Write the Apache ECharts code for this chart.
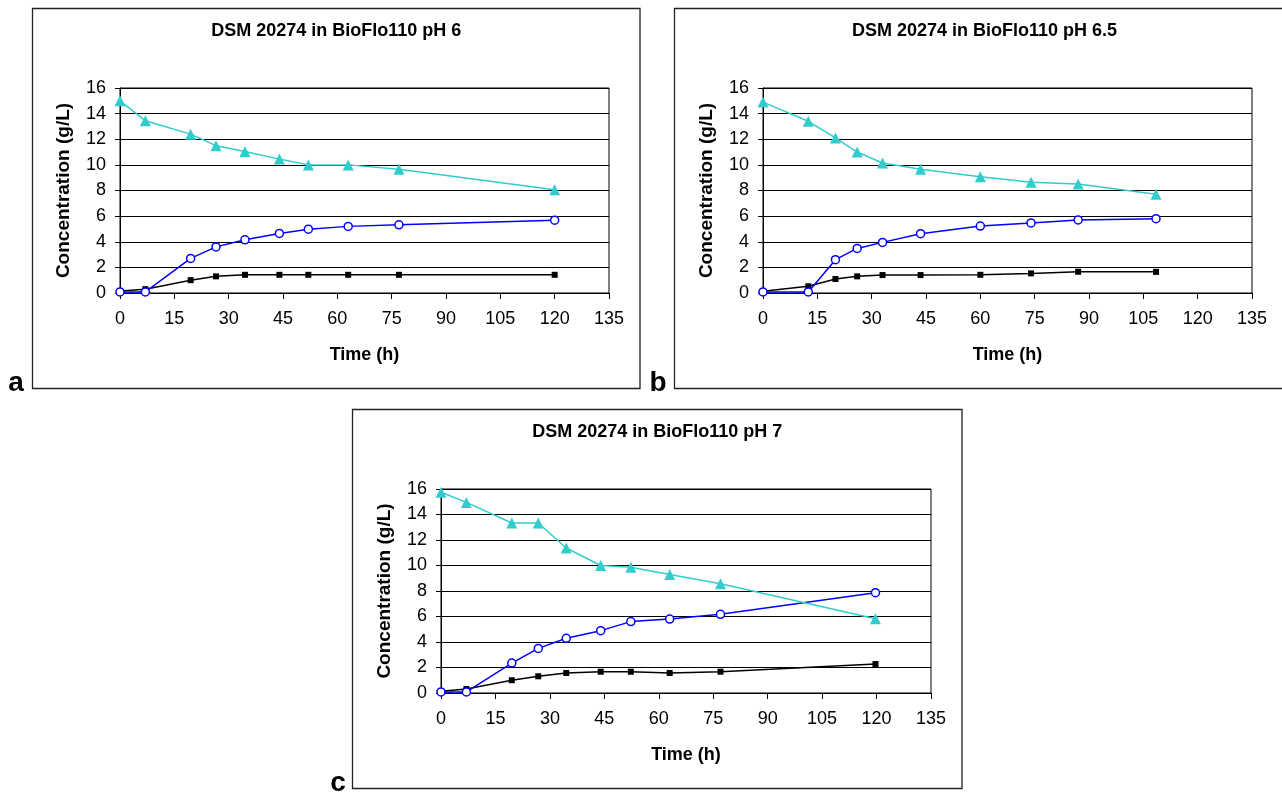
<!DOCTYPE html>
<html>
<head>
<meta charset="utf-8">
<script src="https://cdn.jsdelivr.net/npm/echarts@6/dist/echarts.min.js"></script>
<style>
  body { margin: 0; background: #fff; }
  #main { width: 1282px; height: 794px; }
</style>
</head>
<body>
<div id="main"></div>
<script type="text/javascript">
    // data
    var timeA = [0, 7, 19.5, 26.5, 34.5, 44, 52, 63, 77, 120];
    var triA = [15.0, 13.45, 12.4, 11.5, 11.05, 10.45, 10.0, 10.0, 9.65, 8.05];
    var circA = [0.08, 0.08, 2.7, 3.6, 4.15, 4.65, 4.98, 5.2, 5.32, 5.68];
    var sqA = [0.15, 0.3, 1.0, 1.3, 1.42, 1.42, 1.42, 1.42, 1.42, 1.42];

    var timeB = [0, 12.5, 20, 26, 33, 43.5, 60, 74, 87, 108.5];
    var triB = [14.9, 13.4, 12.1, 11.0, 10.15, 9.65, 9.08, 8.65, 8.5, 7.7];
    var circB = [0.08, 0.08, 2.6, 3.48, 3.95, 4.63, 5.22, 5.47, 5.7, 5.8];
    var sqB = [0.13, 0.52, 1.09, 1.3, 1.4, 1.4, 1.42, 1.53, 1.66, 1.65];

    var timeC = [0, 7, 19.5, 26.8, 34.5, 44, 52.3, 63, 77, 119.7];
    var triC = [15.75, 14.95, 13.33, 13.33, 11.37, 10.0, 9.86, 9.3, 8.57, 5.83];
    var circC = [0.08, 0.08, 2.35, 3.5, 4.29, 4.89, 5.6, 5.8, 6.17, 7.87];
    var sqC = [0.13, 0.31, 1.0, 1.31, 1.57, 1.67, 1.67, 1.57, 1.67, 2.27];

    var titles = ['DSM 20274 in BioFlo110 pH 6', 'DSM 20274 in BioFlo110 pH 6.5', 'DSM 20274 in BioFlo110 pH 7'];
    var panelLabels = ['a', 'b', 'c'];

    var FONT = '"Liberation Sans", Arial, sans-serif';

    var panels = [
        {time: timeA, tri: triA, circ: circA, sq: sqA,
         grid: {left: 120, top: 88, width: 489, height: 205},
         box: {x: 32.5, y: 8.5, w: 607.5, h: 380}, label: {x: 16, y: 397}},
        {time: timeB, tri: triB, circ: circB, sq: sqB,
         grid: {left: 763, top: 88, width: 489, height: 205},
         box: {x: 674.5, y: 8.5, w: 620, h: 380}, label: {x: 658, y: 397}},
        {time: timeC, tri: triC, circ: circC, sq: sqC,
         grid: {left: 441, top: 489, width: 490, height: 204},
         box: {x: 352.5, y: 409.5, w: 609.5, h: 379}, label: {x: 338, y: 797}}
    ];

    function pairs(xs, ys) {
        return xs.map(function (x, i) { return [x, ys[i]]; });
    }

    var grids = [], xAxes = [], yAxes = [], series = [], graphics = [];

    panels.forEach(function (p, i) {
        grids.push({
            left: p.grid.left, top: p.grid.top, width: p.grid.width, height: p.grid.height,
            show: true, borderColor: '#000', borderWidth: 1, backgroundColor: 'transparent'
        });
        xAxes.push({
            gridIndex: i, type: 'value', min: 0, max: 135, interval: 15,
            axisLine: {show: true, lineStyle: {color: '#000', width: 1}},
            axisTick: {show: true, length: 6, lineStyle: {color: '#000'}},
            axisLabel: {color: '#000', fontSize: 18, fontFamily: FONT, margin: 17},
            splitLine: {show: false}
        });
        yAxes.push({
            gridIndex: i, type: 'value', min: 0, max: 16, interval: 2,
            axisLine: {show: true, lineStyle: {color: '#000', width: 1}},
            axisTick: {show: true, length: 5, lineStyle: {color: '#000'}},
            axisLabel: {color: '#000', fontSize: 18, fontFamily: FONT, margin: 14},
            splitLine: {show: true, lineStyle: {color: '#000', width: 1}}
        });
        series.push({
            type: 'line', xAxisIndex: i, yAxisIndex: i, data: pairs(p.time, p.sq),
            symbol: 'rect', symbolSize: 6, clip: false,
            lineStyle: {color: '#000', width: 1.5},
            itemStyle: {color: '#000'}
        });
        series.push({
            type: 'line', xAxisIndex: i, yAxisIndex: i, data: pairs(p.time, p.circ),
            symbol: 'circle', symbolSize: 8, clip: false,
            lineStyle: {color: '#0000ff', width: 1.5},
            itemStyle: {color: '#fff', borderColor: '#0000ff', borderWidth: 1.5}
        });
        series.push({
            type: 'line', xAxisIndex: i, yAxisIndex: i, data: pairs(p.time, p.tri),
            symbol: 'triangle', symbolSize: 11, clip: false,
            lineStyle: {color: '#33cccc', width: 1.5},
            itemStyle: {color: '#33cccc'}
        });

        var cx = p.box.x + p.box.w / 2;
        var gx = p.grid.left + p.grid.width / 2;
        var gy = p.grid.top + p.grid.height / 2;
        var bottom = p.grid.top + p.grid.height;

        graphics.push({
            type: 'rect', z: 0, silent: true,
            shape: {x: p.box.x, y: p.box.y, width: p.box.w, height: p.box.h},
            style: {fill: 'none', stroke: '#222', lineWidth: 1.3}
        });
        graphics.push({
            type: 'text', silent: true, x: cx, y: p.box.y + 23,
            style: {text: titles[i], font: 'bold 18px ' + FONT, fill: '#000',
                    textAlign: 'center', textVerticalAlign: 'middle'}
        });
        graphics.push({
            type: 'text', silent: true, x: gx, y: bottom + 62,
            style: {text: 'Time (h)', font: 'bold 18px ' + FONT, fill: '#000',
                    textAlign: 'center', textVerticalAlign: 'middle'}
        });
        graphics.push({
            type: 'text', silent: true, x: p.grid.left - 56, y: gy, rotation: Math.PI / 2,
            style: {text: 'Concentration (g/L)', font: 'bold 19px ' + FONT, fill: '#000',
                    textAlign: 'center', textVerticalAlign: 'middle'}
        });
        graphics.push({
            type: 'text', silent: true, x: p.label.x, y: p.label.y,
            style: {text: panelLabels[i], font: 'bold 28px ' + FONT, fill: '#000',
                    textAlign: 'center', textVerticalAlign: 'bottom'}
        });
    });

    var myChart = echarts.init(document.getElementById('main'));
    var option = {
        backgroundColor: '#fff',
        animation: false,
        grid: grids,
        xAxis: xAxes,
        yAxis: yAxes,
        series: series,
        graphic: graphics
    };
    myChart.setOption(option);
</script>
</body>
</html>
